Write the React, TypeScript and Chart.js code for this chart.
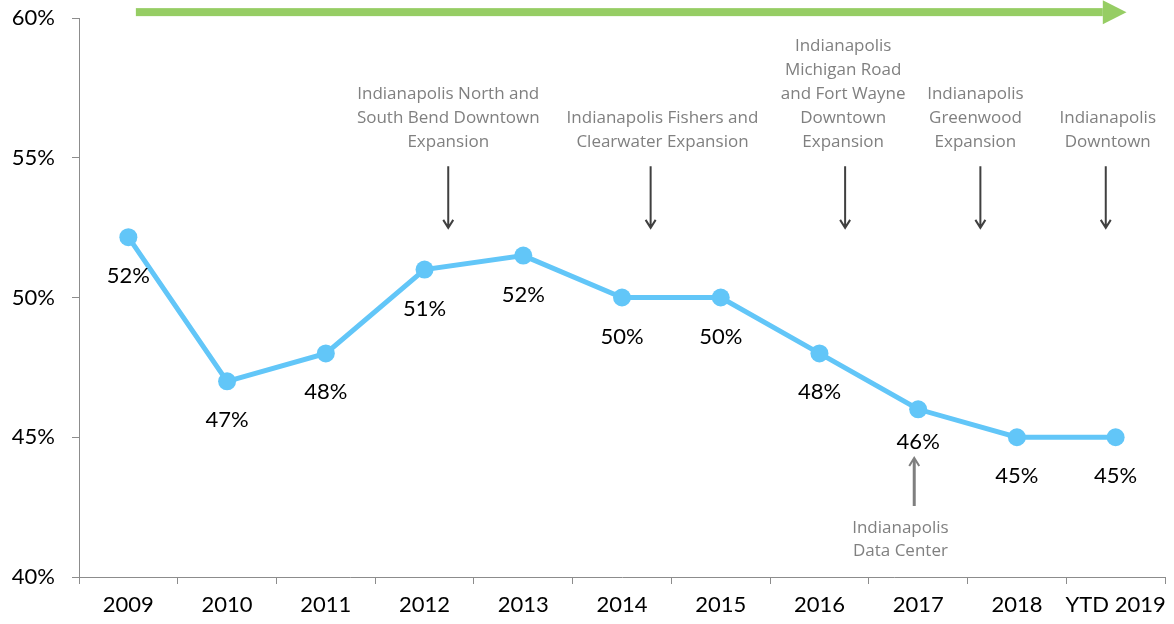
import React, { useEffect, useRef } from "react";
import { Chart, registerables } from "chart.js";

Chart.register(...registerables);

const categories = ["2009", "2010", "2011", "2012", "2013", "2014", "2015", "2016", "2017", "2018", "YTD 2019"];
const values = [52.16, 47.0, 48.0, 51.0, 51.5, 50.0, 50.0, 48.0, 46.0, 45.0, 45.0];
const valueLabels = ["52%", "47%", "48%", "51%", "52%", "50%", "50%", "48%", "46%", "45%", "45%"];
const yTicks = [40, 45, 50, 55, 60];

const annoLines = [
  ["Indianapolis North and", "South Bend Downtown", "Expansion"],
  ["Indianapolis Fishers and", "Clearwater Expansion"],
  ["Indianapolis", "Michigan Road", "and Fort Wayne", "Downtown", "Expansion"],
  ["Indianapolis", "Greenwood", "Expansion"],
  ["Indianapolis", "Downtown"],
];
const annoTextX = [3.24, 5.41, 7.24, 8.58, 9.92];
const annoArrowX = [3.24, 5.29, 7.26, 8.63, 9.9];
const annoLastLineY = 55.57;
const annoArrowTop = 54.7;
const annoArrowBottom = 52.49;

const dcLines = ["Indianapolis", "Data Center"];
const dcTextX = 7.82;
const dcArrowX = 7.96;
const dcFirstLineY = 41.75;
const dcArrowFrom = 42.54;
const dcArrowTo = 44.26;

const trendStart = 0.076;
const trendShaftEnd = 9.87;
const trendHeadEnd = 10.11;
const trendY = 60.21;

const overlayPlugin = {
  id: "overlay",
  afterDatasetsDraw(chart: any) {
    const ctx = chart.ctx;
    const xs = chart.scales.x;
    const ys = chart.scales.y;
    const meta = chart.getDatasetMeta(0);
    ctx.save();
    ctx.fillStyle = "#000";
    ctx.font = "22px Lato";
    ctx.textAlign = "center";
    ctx.textBaseline = "middle";
    meta.data.forEach((pt: any, i: number) => {
      ctx.fillText(valueLabels[i], pt.x, pt.y + (i === 8 ? 33 : 39));
    });

    ctx.fillStyle = "#808080";
    ctx.font = "17px 'Open Sans'";
    annoLines.forEach((lines, k) => {
      const cx = xs.getPixelForValue(annoTextX[k]);
      const lastY = ys.getPixelForValue(annoLastLineY);
      lines.forEach((ln, j) => {
        ctx.fillText(ln, cx, lastY - (lines.length - 1 - j) * 24);
      });
    });
    ctx.strokeStyle = "#404040";
    ctx.lineWidth = 2;
    annoArrowX.forEach((ax) => {
      const x = xs.getPixelForValue(ax);
      const y1 = ys.getPixelForValue(annoArrowTop);
      const y2 = ys.getPixelForValue(annoArrowBottom);
      ctx.beginPath();
      ctx.moveTo(x, y1);
      ctx.lineTo(x, y2);
      ctx.moveTo(x - 5, y2 - 8);
      ctx.lineTo(x, y2);
      ctx.lineTo(x + 5, y2 - 8);
      ctx.stroke();
    });

    const dcx = xs.getPixelForValue(dcTextX);
    const dcy = ys.getPixelForValue(dcFirstLineY);
    dcLines.forEach((ln, j) => ctx.fillText(ln, dcx, dcy + j * 23));
    {
      const x = xs.getPixelForValue(dcArrowX);
      const y1 = ys.getPixelForValue(dcArrowFrom);
      const y2 = ys.getPixelForValue(dcArrowTo);
      ctx.strokeStyle = "#7F7F7F";
      ctx.lineWidth = 3;
      ctx.beginPath();
      ctx.moveTo(x, y1);
      ctx.lineTo(x, y2 + 1);
      ctx.stroke();
      ctx.lineWidth = 2;
      ctx.beginPath();
      ctx.moveTo(x - 5, y2 + 8);
      ctx.lineTo(x, y2);
      ctx.lineTo(x + 5, y2 + 8);
      ctx.stroke();
    }

    {
      const x0 = xs.getPixelForValue(trendStart);
      const x1 = xs.getPixelForValue(trendShaftEnd);
      const x2 = xs.getPixelForValue(trendHeadEnd);
      const y = ys.getPixelForValue(trendY);
      ctx.fillStyle = "#96CD64";
      ctx.fillRect(x0, y - 4, x1 - x0, 8);
      ctx.beginPath();
      ctx.moveTo(x1, y - 12);
      ctx.lineTo(x2, y);
      ctx.lineTo(x1, y + 12);
      ctx.closePath();
      ctx.fill();
    }
    ctx.restore();
  },
};

export default function App() {
  const ref = useRef<HTMLCanvasElement>(null);
  useEffect(() => {
    document.body.style.margin = "0";
    const chart = new Chart(ref.current!, {
      type: "line",
      data: {
        labels: categories,
        datasets: [
          {
            data: values,
            borderColor: "#62C6F8",
            backgroundColor: "#62C6F8",
            borderWidth: 5,
            pointRadius: 9,
            pointHoverRadius: 9,
            pointBorderWidth: 0,
            tension: 0,
            clip: false,
          },
        ],
      },
      options: {
        responsive: false,
        animation: false,
        maintainAspectRatio: false,
        layout: { padding: { top: 18, right: 4, left: 0, bottom: 0 } },
        plugins: { legend: { display: false }, tooltip: { enabled: false } },
        scales: {
          x: {
            offset: true,
            grid: { drawOnChartArea: false, drawTicks: true, tickLength: 7, color: "#8C8C8C", offset: true },
            border: { color: "#8C8C8C", width: 1 },
            ticks: { color: "#000", font: { family: "Lato", size: 22 }, padding: 8, maxRotation: 0, autoSkip: false },
            afterFit: (s: any) => { s.height = 47; s.paddingLeft = 0; s.paddingRight = 0; },
          },
          y: {
            min: 40,
            max: 60,
            afterBuildTicks: (s: any) => { s.ticks = yTicks.map((v) => ({ value: v })); },
            grid: { drawOnChartArea: false, drawTicks: true, tickLength: 7, color: "#8C8C8C" },
            border: { color: "#8C8C8C", width: 1 },
            ticks: { color: "#000", font: { family: "Lato", size: 22 }, padding: 17, callback: (v: any) => v + "%" },
            afterFit: (s: any) => { s.width = 79; s.paddingTop = 0; s.paddingBottom = 0; },
          },
        },
      },
      plugins: [overlayPlugin],
    });
    return () => chart.destroy();
  }, []);
  return (
    <div style={{ width: 1174, height: 624 }}>
      <canvas ref={ref} width={1174} height={624} style={{ display: "block" }} />
    </div>
  );
}
